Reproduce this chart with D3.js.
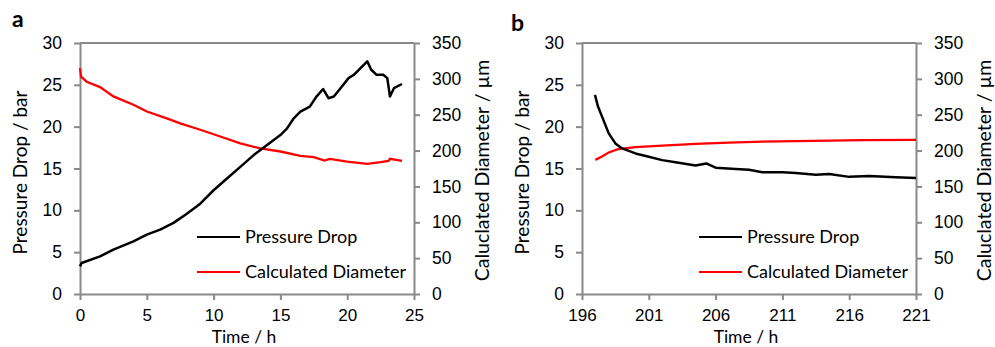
<!DOCTYPE html>
<html>
<head>
<meta charset="utf-8">
<script src="https://cdn.jsdelivr.net/npm/d3@7"></script>
<style>
  body { margin: 0; background: #fff; }
  svg { display: block; font-family: Lato, "Open Sans", sans-serif; }
  .axis text { font-size: 17.5px; fill: #000; }
  .axis line { stroke: #898989; stroke-width: 2px; }
</style>
</head>
<body>
<svg id="chart"></svg>
<script>
// panel a: first 24 h
const timeA = [0, 0.12, 1.5, 2.5, 4, 5, 6, 7, 8, 9, 10, 11, 12, 13, 14, 15, 15.5, 16, 16.5, 17.2, 17.7, 18.2, 18.6, 19, 19.5, 20.1, 20.5, 21, 21.5, 21.8, 22.2, 22.7, 23, 23.2, 23.5, 24.1];
const pressureA = [3.3, 3.7, 4.5, 5.3, 6.3, 7.1, 7.7, 8.5, 9.6, 10.8, 12.4, 13.8, 15.2, 16.6, 17.8, 19.0, 19.8, 21.0, 21.8, 22.4, 23.6, 24.5, 23.4, 23.6, 24.6, 25.8, 26.2, 27.0, 27.8, 26.8, 26.2, 26.2, 25.8, 23.6, 24.6, 25.1];
const timeDiamA = [0, 0.08, 0.5, 1.5, 2.5, 4, 5, 6.5, 7.5, 9, 10.5, 12, 13.5, 15, 16.5, 17.5, 18.3, 18.7, 20, 21.5, 22.5, 23.1, 23.2, 24.1];
const diameterA = [315, 303, 296, 288.5, 275.5, 264, 254.5, 245, 238, 229, 219.6, 210, 203, 198.7, 192.6, 190.8, 186, 188.5, 184.7, 181.5, 183.8, 185.7, 188.5, 185.7];

// panel b: 197 - 221 h
const timeB = [196.97, 197.2, 197.5, 198, 198.5, 199, 200, 201, 202, 203, 204.5, 205.3, 206, 207.5, 208.5, 209.5, 211, 212, 213.5, 214.5, 216, 217.5, 219.5, 221];
const pressureB = [23.8, 22.4, 21.2, 19.2, 18.0, 17.4, 16.8, 16.4, 16.0, 15.75, 15.35, 15.6, 15.1, 14.95, 14.85, 14.55, 14.55, 14.45, 14.25, 14.35, 14.0, 14.1, 13.95, 13.85];
const timeDiamB = [197, 197.5, 198, 198.7, 200, 202, 204.5, 207, 209.5, 212, 214.5, 217, 221];
const diameterB = [187, 191.7, 197.3, 202, 204.7, 207, 209.4, 211.2, 212.6, 213.1, 214, 214.5, 215];

const xTicksA = [0, 5, 10, 15, 20, 25];
const xTicksB = [196, 201, 206, 211, 216, 221];
const pressureTicks = [0, 5, 10, 15, 20, 25, 30];
const diameterTicks = [0, 50, 100, 150, 200, 250, 300, 350];

const svg = d3.select('#chart').attr('width', 995).attr('height', 347);

function drawPanel(cfg) {
    const w = cfg.right - cfg.left;
    const top = 43, bottom = 294;
    const g = svg.append('g').attr('transform', `translate(${cfg.left}, ${top})`);
    const h = bottom - top;

    let x = d3.scaleLinear().domain(cfg.xDomain).range([0, w]);
    let yL = d3.scaleLinear().domain([0, 30]).range([h, 0]);
    let yR = d3.scaleLinear().domain([0, 350]).range([h, 0]);

    // top border of the plot area
    g.append('line').attr('x1', 0).attr('x2', w).attr('y1', 0).attr('y2', 0)
        .attr('stroke', '#898989').attr('stroke-width', 2);

    const yAxisL = g.append('g').attr('class', 'axis')
        .call(d3.axisLeft(yL).tickValues(pressureTicks).tickSize(6).tickSizeOuter(0).tickPadding(12));
    const yAxisR = g.append('g').attr('class', 'axis').attr('transform', `translate(${w}, 0)`)
        .call(d3.axisRight(yR).tickValues(diameterTicks).tickSize(6).tickSizeOuter(0).tickPadding(12));
    const xAxis = g.append('g').attr('class', 'axis').attr('transform', `translate(0, ${h})`)
        .call(d3.axisBottom(x).tickValues(cfg.xTicks).tickFormat(d3.format('d')).tickSize(6).tickSizeOuter(0).tickPadding(9));
    xAxis.selectAll('text').style('font-size', '17px');
    [yAxisL, yAxisR, xAxis].forEach(a => a.select('.domain').attr('stroke', '#898989').attr('stroke-width', 2));

    // data lines
    const lineL = d3.line().x(d => x(d[0])).y(d => yL(d[1]));
    const lineR = d3.line().x(d => x(d[0])).y(d => yR(d[1]));
    g.append('path').datum(d3.zip(cfg.timeD, cfg.diameter))
        .attr('d', lineR).attr('fill', 'none').attr('stroke', '#ff0000').attr('stroke-width', 2.3);
    g.append('path').datum(d3.zip(cfg.timeP, cfg.pressure))
        .attr('d', lineL).attr('fill', 'none').attr('stroke', '#000').attr('stroke-width', 2.5)
        .attr('stroke-linejoin', 'round');

    // axis titles
    g.append('text')
        .attr('transform', `translate(-53, ${h / 2 + 4}) rotate(-90)`)
        .attr('text-anchor', 'middle').style('font-size', '19px')
        .text('Pressure Drop / bar');
    g.append('text')
        .attr('transform', `translate(${w + 75}, ${h / 2 + 2}) rotate(-90)`)
        .attr('text-anchor', 'middle').style('font-size', '19.5px')
        .text('Caluclated Diameter / µm');
    g.append('text')
        .attr('x', w / 2 - 3).attr('y', 300)
        .attr('text-anchor', 'middle').style('font-size', '17.5px')
        .text('Time / h');

    // legend
    const legend = [['Pressure Drop', '#000'], ['Calculated Diameter', '#ff0000']];
    legend.forEach((d, i) => {
        const ly = 194 + i * 35;
        g.append('line').attr('x1', 117).attr('x2', 160).attr('y1', ly).attr('y2', ly)
            .attr('stroke', d[1]).attr('stroke-width', 2);
        g.append('text').attr('x', 165).attr('y', ly + 6).style('font-size', '18px').text(d[0]);
    });

    // panel letter
    svg.append('text').attr('x', cfg.labelX).attr('y', cfg.labelY)
        .style('font-size', '23px').style('font-weight', 'bold').text(cfg.label);
}

drawPanel({ left: 80, right: 414, xDomain: [0, 25], xTicks: xTicksA,
    timeP: timeA, pressure: pressureA, timeD: timeDiamA, diameter: diameterA,
    label: 'a', labelX: 12, labelY: 27 });
drawPanel({ left: 582, right: 916, xDomain: [196, 221], xTicks: xTicksB,
    timeP: timeB, pressure: pressureB, timeD: timeDiamB, diameter: diameterB,
    label: 'b', labelX: 511, labelY: 31 });
</script>
</body>
</html>
